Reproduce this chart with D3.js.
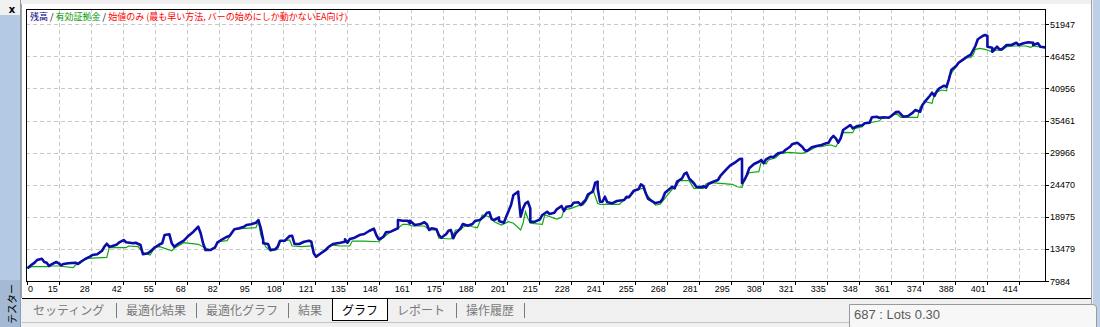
<!DOCTYPE html>
<html>
<head>
<meta charset="utf-8">
<script src="https://d3js.org/d3.v7.min.js"></script>
<style>
  body { margin: 0; background: #f0f0f0; overflow: hidden; }
  svg { display: block; }
</style>
</head>
<body>
<div id="chart"></div>
<script>
// MT4 strategy tester graph: balance (blue) and equity (green) by trade number

const xTickLabels = [0, 15, 28, 42, 55, 68, 82, 95, 108, 121, 135, 148, 161, 175, 188, 201,
  215, 228, 241, 255, 268, 281, 295, 308, 321, 335, 348, 361, 374, 388, 401, 414];
const yTickLabels = [7984, 13479, 18975, 24470, 29966, 35461, 40956, 46452, 51947];

const legendParts = [
  { text: '残高', color: '#00008b' },
  { text: ' / ', color: '#000000' },
  { text: '有効証拠金', color: '#009a00' },
  { text: ' / ', color: '#000000' },
  { text: '始値のみ (最も早い方法, バーの始めにしか動かないEA向け)', color: '#ff0000' }
];

const tabNames = ['セッティング', '最適化結果', '最適化グラフ', '結果', 'グラフ', 'レポート', '操作履歴'];
const activeTab = 'グラフ';
const statusText = '687 : Lots 0.30';

// [trade no, balance]
const balance = [
  [2,10160],[4,10840],[5,11120],[6,11580],[8,11800],[9,11240],[10,11120],[11,10550],[12,10840],[14,11240],
  [15,11020],[16,10670],[17,10900],[19,11020],[22,11120],[23,10900],[24,11240],[26,11750],[28,12150],[29,12440],
  [31,12560],[33,13170],[34,13860],[35,14370],[36,13860],[37,13930],[39,14200],[40,14540],[42,15000],[43,14610],
  [46,14440],[47,14540],[49,14150],[50,12560],[52,12730],[53,13000],[55,13760],[57,14270],[58,14440],[59,15860],
  [61,15980],[62,14440],[63,13860],[65,14440],[67,14890],[69,15740],[71,16430],[73,17280],[74,16150],[75,14440],
  [76,13290],[78,13290],[80,13760],[81,14610],[83,15130],[85,15570],
  [86,15690],[88,16840],[90,17010],[92,17280],[93,17570],[95,17690],[97,17970],[98,18430],[99,17010],[100,15000],
  [100,14440],[102,14320],[103,13290],[105,13410],[106,13860],[107,14890],[109,14890],[111,15690],[112,15740],[113,14320],
  [115,14320],[117,14710],[119,14890],[120,14710],[121,12730],[122,12150],[124,12730],[126,13290],[127,13760],[129,14320],
  [132,14540],[134,14710],[134,15130],[135,14540],[136,15180],[138,15400],[140,15860],[142,16030],[144,16550],[146,16940],
  [147,15860],[148,15130],[149,15300],[150,15570],[151,16320],[153,16430],[156,17010],[156,18430],[158,18310],[160,18310],
  [161,17870],[161,18310],[163,17570],[165,17690],[167,18040],[168,17690],[169,16720],
  [170,17010],[172,16840],[173,15860],[174,15400],[176,15980],[177,16600],[178,16720],[179,15300],[180,16150],[182,17010],
  [183,17750],[185,17450],[187,17750],[188,18260],[190,18430],[192,19120],[193,19680],[194,19750],[195,18550],[196,18430],
  [198,18890],[198,18260],[200,17970],[201,19000],[203,21000],[204,22710],[206,23280],[206,23000],[207,19000],[208,20430],
  [209,21290],[210,21560],[211,20430],[211,18140],[213,18140],[215,18550],[216,19290],[218,19850],[219,19460],[221,19680],
  [222,20260],[224,20830],[225,19970],[226,20710],[228,20830],[229,21390],[231,21460],[232,21000],[234,21860],[235,22830],
  [237,23280],[238,24820],[239,24990],[239,23860],[240,21560],[241,21560],[242,22420],[243,21460],[245,21290],[247,21680],
  [250,21860],[251,22420],[252,22320],
  [254,23450],[256,23690],[257,24540],[258,24250],[259,23000],[260,22030],[263,21340],[265,21510],[266,22030],[267,23110],
  [268,23450],[270,24130],[271,23860],[272,24990],[274,25500],[275,26310],[276,26530],[277,25570],[279,24720],[280,24130],
  [282,24030],[283,24250],[284,23960],[285,24600],[287,24990],[289,25280],[290,25970],[292,26870],[294,27730],[296,28240],
  [298,28880],[299,28930],[299,27560],[299,24720],[300,25280],[301,26140],[302,27280],[304,28020],[306,28410],[307,28710],
  [308,28140],[309,28830],[311,29270],[312,29170],[314,29850],[316,30020],[317,30420],[319,30980],[320,31450],[322,31670],
  [324,30980],[325,30420],[326,30250],[328,30880],[330,31100],[332,31270],[334,31570],[335,31670],
  [336,32420],[337,32820],[338,32420],[339,31670],[340,32420],[341,33840],[343,34410],[344,34700],[345,34130],[347,34530],
  [349,34650],[350,34990],[352,35090],[353,36020],[355,36120],[356,35950],[358,36020],[360,35950],[361,36240],[363,36930],
  [364,36980],[366,36120],[368,36240],[370,36810],[371,37270],[373,36980],[374,38120],[375,38690],[377,39670],[378,40230],
  [379,39670],[380,40520],[381,40980],[383,41430],[384,41260],[385,42530],[386,44120],[388,44800],[389,45370],[391,45950],
  [393,46520],[394,46690],[396,48230],[397,49380],[399,49940],[400,50110],[401,49940],[401,48110],[403,47940],[403,47250],
  [405,48110],[406,47660],[407,47660],[409,48400],[411,48400],[413,48790],[414,48400],[416,48690],[418,48860],[420,48790],
  [420,48400],[422,48690],[423,48110],[425,48000]
];

// [trade no, equity]
const equity = [
  [2,10160],[4,10430],[10,10430],[12,10550],[15,10550],[21,10260],[22,10720],[24,11020],[26,11700],[27,11870],
  [35,12040],[36,13690],[43,13690],[44,13980],[48,13860],[50,12830],[53,12440],[55,13760],[57,13860],[62,13170],
  [63,13580],[67,14540],[73,14270],[75,13860],[78,13290],[80,13580],[81,14710],[85,14890],[86,15570],
  [88,16840],[92,17010],[97,17110],[98,18310],[99,15860],[101,13860],[103,13120],[106,13410],[107,14710],[111,15000],
  [112,13980],[116,13860],[120,13980],[122,12040],[124,12830],[128,14150],[132,13980],[136,13980],[137,14830],[142,14830],
  [148,14710],[150,15470],[153,16430],[156,17010],[158,17690],[160,17690],[162,17400],[167,17400],[169,16720],
  [172,16720],[173,15300],[178,15180],[180,16720],[182,16720],[183,17180],[185,17570],[187,17280],[189,17110],[190,18140],
  [191,19290],[194,19000],[196,18140],[199,17570],[202,18140],[204,17870],[207,16720],[208,17870],[209,19850],[210,18720],
  [211,17870],[216,17690],[217,19290],[220,18890],[222,18600],[224,18890],[225,20140],[228,20430],[231,20880],[233,21000],
  [234,21560],[236,23000],[237,23690],[239,21290],[240,21120],[248,21120],[250,21860],[252,22320],
  [253,22710],[255,23690],[258,23860],[259,23000],[263,21000],[265,21120],[268,22710],[270,23690],[272,24420],[273,25160],
  [277,25160],[279,23860],[283,23860],[284,24600],[286,24820],[295,24540],[297,24130],[299,24030],[300,25280],[302,26530],
  [306,26700],[307,28410],[309,28020],[310,28710],[313,29100],[315,29850],[318,30020],[324,29850],[326,30130],[328,30540],
  [330,30980],[332,30980],[335,31270],
  [336,31270],[338,30980],[340,32420],[341,33450],[345,33380],[346,34130],[349,34410],[350,34990],[352,35090],[356,35380],
  [357,35850],[361,36120],[363,36700],[365,36020],[372,36020],[373,37730],[375,38690],[378,38420],[379,40130],[382,40690],
  [384,40570],[385,42970],[387,44120],[389,45270],[391,45830],[392,46220],[394,46220],[395,46690],[396,47660],[398,47830],
  [400,47660],[403,47250],[405,47540],[407,47540],[409,48110],[412,48230],[417,48230],[419,48000],[420,48230],[422,48110],
  [425,48000]
];

const W = 1100, H = 327;
const plot = { left: 26, right: 1045, top: 9, bottom: 281 };
const panel = { left: 22, right: 1091, top: 4, bottom: 298 };

const svg = d3.select('#chart').append('svg')
  .attr('width', W)
  .attr('height', H);

// window background
svg.append('rect').attr('width', W).attr('height', H).attr('fill', '#f0f0f0');

// left docking strip
svg.append('rect').attr('x', 0).attr('y', 15).attr('width', 20).attr('height', H - 15).attr('fill', '#b4c9e3');
svg.append('rect').attr('x', 0).attr('y', 280).attr('width', 20).attr('height', 47).attr('fill', '#a3b9d4');
svg.append('line').attr('x1', 20.5).attr('x2', 20.5).attr('y1', 0).attr('y2', H).attr('stroke', '#8a9bb0');
svg.append('text').attr('x', 12).attr('y', 13)
  .attr('text-anchor', 'middle').attr('font-family', 'DejaVu Sans').attr('font-weight', 'bold')
  .attr('font-size', 10).attr('fill', '#000').text('x');
svg.append('text')
  .attr('transform', 'translate(16,304) rotate(-90)')
  .attr('text-anchor', 'middle').attr('font-family', 'Noto Sans CJK JP')
  .attr('font-size', 10).attr('fill', '#000').text('テスター');

// right strip
svg.append('rect').attr('x', 1093).attr('y', 0).attr('width', 7).attr('height', H).attr('fill', '#bcd0e8');

// chart panel
svg.append('rect')
  .attr('x', panel.left).attr('y', panel.top)
  .attr('width', panel.right - panel.left).attr('height', panel.bottom - panel.top)
  .attr('fill', '#fff');
svg.append('line').attr('x1', panel.left - 0.5).attr('x2', panel.left - 0.5)
  .attr('y1', panel.top).attr('y2', panel.bottom).attr('stroke', '#a0a0a0');
svg.append('line').attr('x1', panel.right + 0.5).attr('x2', panel.right + 0.5)
  .attr('y1', 0).attr('y2', H).attr('stroke', '#a0a0a0');

// scales
const gx = d3.scalePoint()
  .domain(xTickLabels)
  .range([plot.left + 0.7, plot.left + 0.7 + 32 * (xTickLabels.length - 1)]);

const last = xTickLabels[xTickLabels.length - 1];
const x = d3.scaleLinear()
  .domain([xTickLabels[1], last])
  .range([gx(xTickLabels[1]), gx(last)]);

const y = d3.scaleLinear()
  .domain([yTickLabels[0], yTickLabels[yTickLabels.length - 1]])
  .range([plot.bottom, 24.3]);

// grid
const grid = svg.append('g')
  .attr('stroke', '#c8c8c8')
  .attr('stroke-dasharray', '4,3');

grid.selectAll('line.v')
  .data(xTickLabels.slice(1))
  .enter().append('line')
  .attr('x1', d => Math.round(gx(d)) + 0.5)
  .attr('x2', d => Math.round(gx(d)) + 0.5)
  .attr('y1', plot.top)
  .attr('y2', plot.bottom);

grid.selectAll('line.h')
  .data(yTickLabels.slice(1))
  .enter().append('line')
  .attr('x1', plot.left)
  .attr('x2', plot.right)
  .attr('y1', d => Math.round(y(d)) + 0.5)
  .attr('y2', d => Math.round(y(d)) + 0.5);

// lines
const line = d3.line()
  .x(d => x(d[0]))
  .y(d => y(d[1]));

svg.append('clipPath').attr('id', 'plotClip')
  .append('rect')
  .attr('x', plot.left).attr('y', plot.top)
  .attr('width', plot.right - plot.left).attr('height', plot.bottom - plot.top);

svg.append('path')
  .datum(equity)
  .attr('clip-path', 'url(#plotClip)')
  .attr('fill', 'none')
  .attr('stroke', '#10a810')
  .attr('stroke-width', 1.2)
  .attr('d', line);

svg.append('path')
  .datum(balance)
  .attr('clip-path', 'url(#plotClip)')
  .attr('fill', 'none')
  .attr('stroke', '#0c0ca8')
  .attr('stroke-width', 2.6)
  .attr('stroke-linejoin', 'round')
  .attr('d', line);

// plot frame
svg.append('rect')
  .attr('x', plot.left + 0.5).attr('y', plot.top + 0.5)
  .attr('width', plot.right - plot.left).attr('height', plot.bottom - plot.top)
  .attr('fill', 'none').attr('stroke', '#000');

// right axis ticks and labels
const yAxis = svg.append('g').attr('font-family', 'Liberation Sans').attr('font-size', 9);
yAxis.selectAll('line')
  .data(yTickLabels)
  .enter().append('line')
  .attr('x1', plot.right + 0.5).attr('x2', plot.right + 4)
  .attr('y1', d => Math.round(y(d)) + 0.5).attr('y2', d => Math.round(y(d)) + 0.5)
  .attr('stroke', '#000');
yAxis.selectAll('text')
  .data(yTickLabels)
  .enter().append('text')
  .attr('x', plot.right + 5)
  .attr('y', d => y(d) + 3.5)
  .attr('fill', '#000')
  .text(d => d);

// bottom axis ticks and labels
const xAxis = svg.append('g').attr('font-family', 'Liberation Sans').attr('font-size', 9);
xAxis.selectAll('line')
  .data(xTickLabels)
  .enter().append('line')
  .attr('x1', d => Math.round(gx(d)) + 0.5).attr('x2', d => Math.round(gx(d)) + 0.5)
  .attr('y1', plot.bottom).attr('y2', plot.bottom + 4)
  .attr('stroke', '#000');
xAxis.selectAll('text')
  .data(xTickLabels)
  .enter().append('text')
  .attr('x', (d, i) => i === 0 ? plot.left + 2 : gx(d) - 1)
  .attr('y', 292)
  .attr('text-anchor', (d, i) => i === 0 ? 'start' : 'end')
  .attr('fill', '#000')
  .text(d => d);

// legend
const legend = svg.append('text')
  .attr('x', 30).attr('y', 20)
  .attr('font-family', 'Noto Sans CJK JP')
  .attr('font-size', 9);
legend.selectAll('tspan')
  .data(legendParts)
  .enter().append('tspan')
  .attr('fill', d => d.color)
  .attr('xml:space', 'preserve')
  .text(d => d.text);

// panel bottom border
svg.append('line').attr('x1', panel.left).attr('x2', panel.right)
  .attr('y1', panel.bottom + 0.5).attr('y2', panel.bottom + 0.5).attr('stroke', '#000');

// tabs
const tabX = [33, 126, 206, 298, 342, 397, 466];
const sepX = [116.5, 196.5, 288.5, 456.5, 524.5];
svg.append('line').attr('x1', panel.left).attr('x2', 849)
  .attr('y1', 322.5).attr('y2', 322.5).attr('stroke', '#c4c4c4');
svg.append('rect')
  .attr('x', 332.5).attr('y', panel.bottom + 0.5).attr('width', 55).attr('height', 22)
  .attr('fill', '#fff').attr('stroke', '#000');
svg.selectAll('line.sep')
  .data(sepX)
  .enter().append('line')
  .attr('x1', d => d).attr('x2', d => d)
  .attr('y1', 303).attr('y2', 318)
  .attr('stroke', '#7a7a7a');
svg.append('g')
  .attr('font-family', 'Noto Sans CJK JP').attr('font-size', 12)
  .selectAll('text')
  .data(tabNames)
  .enter().append('text')
  .attr('x', (d, i) => tabX[i])
  .attr('y', 314.5)
  .attr('fill', d => d === activeTab ? '#000' : '#7a7a7a')
  .text(d => d);

// status box
svg.append('path')
  .attr('d', 'M849.5,327 V304.5 H1093 Q1096.5,304.5 1096.5,308 V327')
  .attr('fill', '#f7f7f7').attr('stroke', '#9a9a9a');
svg.append('text')
  .attr('x', 854).attr('y', 319)
  .attr('font-family', 'Liberation Sans').attr('font-size', 13)
  .attr('fill', '#5a5a5a')
  .text(statusText);
</script>
</body>
</html>
